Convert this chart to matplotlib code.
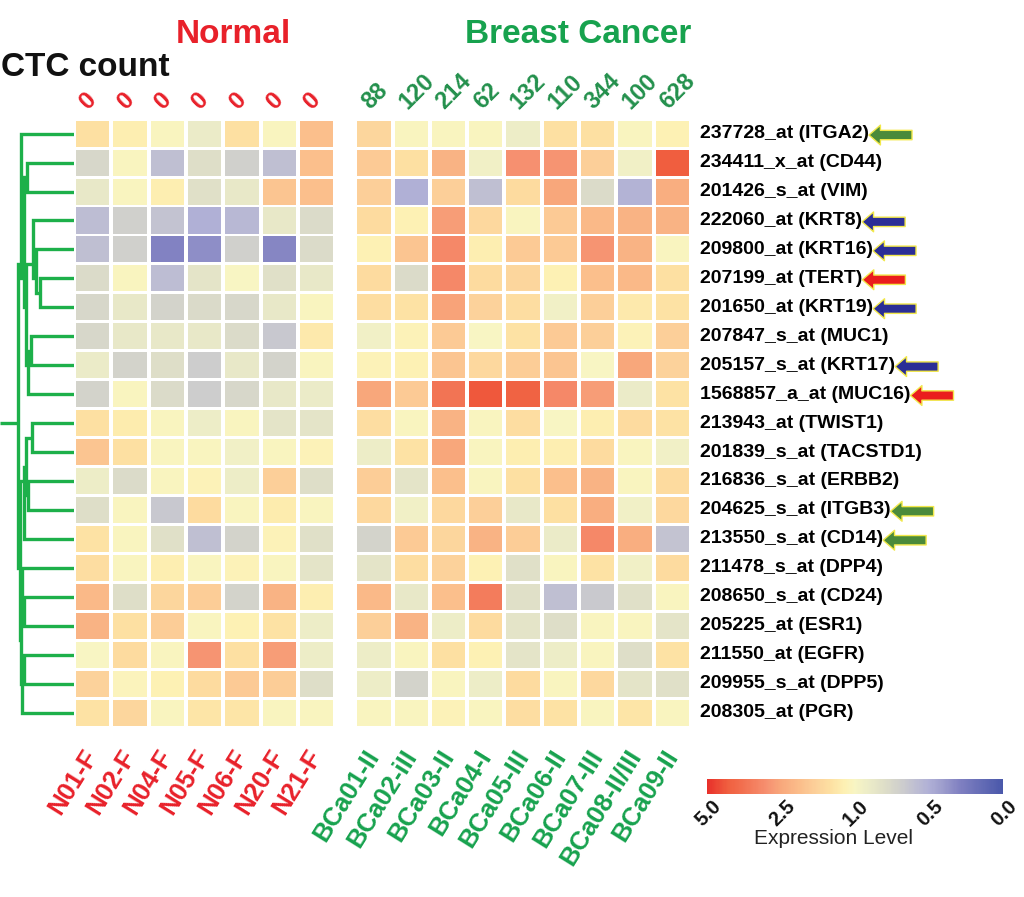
import numpy as np
import matplotlib
matplotlib.use("Agg")
import matplotlib.pyplot as plt
from matplotlib.colors import LinearSegmentedColormap, FuncNorm
from matplotlib.cm import ScalarMappable

plt.rcParams['font.family'] = ['Liberation Sans', 'DejaVu Sans']

# ---------------- data ----------------
genes = ["237728_at (ITGA2)", "234411_x_at (CD44)", "201426_s_at (VIM)",
         "222060_at (KRT8)", "209800_at (KRT16)", "207199_at (TERT)",
         "201650_at (KRT19)", "207847_s_at (MUC1)", "205157_s_at (KRT17)",
         "1568857_a_at (MUC16)", "213943_at (TWIST1)", "201839_s_at (TACSTD1)",
         "216836_s_at (ERBB2)", "204625_s_at (ITGB3)", "213550_s_at (CD14)",
         "211478_s_at (DPP4)", "208650_s_at (CD24)", "205225_at (ESR1)",
         "211550_at (EGFR)", "209955_s_at (DPP5)", "208305_at (PGR)"]

normal_samples = ["N01-F", "N02-F", "N04-F", "N05-F", "N06-F", "N20-F", "N21-F"]
cancer_samples = ["BCa01-II", "BCa02-iII", "BCa03-II", "BCa04-I", "BCa05-III",
                  "BCa06-II", "BCa07-III", "BCa08-II/III", "BCa09-II"]
normal_ctc = [0, 0, 0, 0, 0, 0, 0]
cancer_ctc = [88, 120, 214, 62, 132, 110, 344, 100, 628]

normal_expr = [
    [1.5, 1.25, 1.05, 0.9, 1.5, 1.05, 2.1],
    [0.75, 1.05, 0.6, 0.8, 0.7, 0.6, 2.1],
    [0.88, 1.05, 1.25, 0.82, 0.88, 2.0, 2.1],
    [0.58, 0.7, 0.62, 0.5, 0.55, 0.88, 0.78],
    [0.6, 0.7, 0.3, 0.35, 0.7, 0.32, 0.78],
    [0.78, 1.05, 0.58, 0.85, 1.0, 0.82, 0.88],
    [0.75, 0.88, 0.72, 0.77, 0.75, 0.88, 1.05],
    [0.75, 0.88, 0.88, 0.88, 0.78, 0.65, 1.35],
    [0.9, 0.72, 0.8, 0.68, 0.88, 0.72, 1.05],
    [0.72, 1.05, 0.78, 0.68, 0.75, 0.88, 0.9],
    [1.5, 1.3, 1.05, 0.92, 1.05, 0.85, 0.85],
    [2.0, 1.5, 1.05, 1.05, 0.95, 1.05, 1.15],
    [0.92, 0.78, 1.05, 1.15, 0.92, 1.8, 0.8],
    [0.8, 1.05, 0.65, 1.6, 1.05, 1.3, 1.05],
    [1.45, 1.05, 0.82, 0.6, 0.72, 1.15, 0.82],
    [1.55, 1.05, 1.25, 1.05, 1.15, 1.05, 0.85],
    [2.2, 0.8, 1.7, 1.85, 0.72, 2.3, 1.25],
    [2.3, 1.5, 1.85, 1.05, 1.2, 1.45, 0.92],
    [1.0, 1.6, 1.05, 2.9, 1.5, 2.7, 0.92],
    [1.75, 1.1, 1.2, 1.6, 1.9, 1.85, 0.8],
    [1.45, 1.7, 1.05, 1.4, 1.4, 1.05, 1.05],
]

cancer_expr = [
    [1.7, 1.05, 1.05, 1.05, 0.92, 1.5, 1.5, 1.05, 1.2],
    [1.9, 1.5, 2.3, 0.95, 3.0, 2.9, 1.8, 0.95, 4.3],
    [1.8, 0.5, 1.8, 0.6, 1.6, 2.5, 0.78, 0.52, 2.4],
    [1.6, 1.2, 2.7, 1.65, 1.05, 1.9, 2.2, 2.3, 2.3],
    [1.2, 2.0, 3.2, 1.25, 1.9, 1.9, 2.9, 2.3, 1.05],
    [1.6, 0.78, 3.2, 1.6, 1.7, 1.2, 2.1, 2.2, 1.5],
    [1.55, 1.45, 2.6, 1.75, 1.55, 0.95, 1.8, 1.35, 1.45],
    [0.95, 1.15, 1.9, 1.0, 1.45, 1.9, 1.8, 1.15, 1.8],
    [1.15, 1.2, 2.0, 1.65, 1.85, 2.0, 1.0, 2.5, 1.75],
    [2.5, 1.9, 3.7, 4.4, 4.2, 3.2, 2.7, 0.9, 1.45],
    [1.55, 1.05, 2.3, 1.05, 1.55, 1.0, 1.25, 1.6, 1.45],
    [0.92, 1.45, 2.5, 1.05, 1.25, 1.25, 1.6, 1.05, 0.95],
    [1.85, 0.85, 2.1, 1.05, 1.5, 2.1, 2.3, 1.05, 1.6],
    [1.65, 0.95, 1.65, 1.8, 0.88, 1.5, 2.4, 0.95, 1.65],
    [0.72, 1.9, 1.7, 2.3, 1.85, 0.9, 3.2, 2.4, 0.62],
    [0.85, 1.55, 1.75, 1.2, 0.82, 1.05, 1.45, 0.95, 1.6],
    [2.2, 0.88, 2.1, 3.5, 0.82, 0.6, 0.66, 0.82, 1.05],
    [1.8, 2.3, 0.92, 1.6, 0.85, 0.8, 1.05, 1.05, 0.85],
    [0.92, 1.05, 1.5, 1.2, 0.85, 0.92, 1.05, 0.8, 1.45],
    [0.92, 0.72, 1.05, 0.92, 1.6, 1.05, 1.65, 0.85, 0.82],
    [1.05, 1.05, 1.15, 1.05, 1.55, 1.45, 1.05, 1.4, 1.05],
]

# row dendrogram: (child_a, child_b, height); leaves are 0..20, new nodes 21..
row_merges = [
    (5, 6, 0.34), (4, 21, 0.38), (3, 22, 0.41), (7, 8, 0.43), (24, 9, 0.46),
    (23, 25, 0.48), (1, 2, 0.47), (27, 26, 0.50), (0, 28, 0.53),
    (10, 11, 0.42), (12, 13, 0.46), (30, 31, 0.48), (32, 14, 0.50),
    (16, 17, 0.50), (15, 34, 0.52), (18, 19, 0.50), (36, 20, 0.52),
    (35, 37, 0.535), (33, 38, 0.54), (29, 39, 0.56),
]

# marked genes (row index -> arrow colour)
arrow_rows = {0: "green", 3: "blue", 4: "blue", 5: "red", 6: "blue",
              8: "blue", 9: "red", 13: "green", 14: "green"}

cbar_ticks = [5.0, 2.5, 1.0, 0.5, 0.0]
cbar_ticklabels = ["5.0", "2.5", "1.0", "0.5", "0.0"]

# ---------------- styling ----------------
RED = "#e8212a"
GREEN = "#17a24e"
GREEN_NUM = "#23904c"
DENDRO = "#1db04a"
ARROW_COLORS = {"green": "#4b8a3a", "blue": "#2b2e96", "red": "#ea1d1d"}

cmap = LinearSegmentedColormap.from_list("expr", [
    (0.0, "#4a58aa"), (0.15, "#8282c2"), (0.2, "#9c9ccc"), (0.25, "#b0b0d6"),
    (0.3, "#c0c0d2"), (0.35, "#d0d0cc"), (0.4, "#dedec8"), (0.45, "#ebebc8"),
    (0.5, "#f8f5c4"), (0.5333, "#fdf1b4"), (0.5833, "#fde0a2"),
    (0.6333, "#fcd09a"), (0.6833, "#fbbf8c"), (0.75, "#f8a87c"),
    (0.8, "#f69070"), (0.88, "#f27050"), (0.93, "#f06040"), (1.0, "#e8302a")])

lv = [0.0, 0.5, 1.0, 2.5, 5.0]
pos = [0.0, 0.25, 0.5, 0.75, 1.0]
norm = FuncNorm((lambda x: np.interp(x, lv, pos), lambda y: np.interp(y, pos, lv)),
                vmin=0.0, vmax=5.0)

W, H = 1024, 897
fig = plt.figure(figsize=(W / 100, H / 100), dpi=100)

def px(x0, y0, x1, y1):
    return [x0 / W, 1 - y1 / H, (x1 - x0) / W, (y1 - y0) / H]

GAP = 0.54
nrow = len(genes)
xn = np.arange(len(normal_samples), dtype=float)
xc = len(normal_samples) + GAP + np.arange(len(cancer_samples), dtype=float)
rows = np.arange(nrow)

hm_top, hm_bot = 119.2, 727.0
ax = fig.add_axes(px(74, hm_top, 691, hm_bot))
ne = np.array(normal_expr)
ce = np.array(cancer_expr)
for j, x in enumerate(xn):
    ax.bar(np.full(nrow, x), 0.9, bottom=rows - 0.45, width=0.893,
           color=cmap(norm(ne[:, j])), linewidth=0)
for j, x in enumerate(xc):
    ax.bar(np.full(nrow, x), 0.9, bottom=rows - 0.45, width=0.893,
           color=cmap(norm(ce[:, j])), linewidth=0)
ax.set_xlim(-0.5, xc[-1] + 0.5)
ax.set_ylim(nrow - 0.5, -0.5)
ax.axis("off")

# CTC counts
for x, c in zip(xn, normal_ctc):
    ax.annotate(str(c), xy=(x, 1), xycoords=("data", "axes fraction"),
                xytext=(-3, 6.5), textcoords="offset points", rotation=45,
                ha="left", va="baseline", rotation_mode="anchor",
                fontsize=17.5, fontweight="bold", color=RED)
for x, c in zip(xc, cancer_ctc):
    ax.annotate(str(c), xy=(x, 1), xycoords=("data", "axes fraction"),
                xytext=(-3, 6.5), textcoords="offset points", rotation=45,
                ha="left", va="baseline", rotation_mode="anchor",
                fontsize=17, fontweight="bold", color=GREEN_NUM)

# sample labels
for x, s in zip(xn, normal_samples):
    ax.annotate(s, xy=(x, 0), xycoords=("data", "axes fraction"),
                xytext=(0, -18), textcoords="offset points", rotation=58,
                ha="right", va="center", rotation_mode="anchor",
                fontsize=18.5, fontweight="bold", color=RED)
for x, s in zip(xc, cancer_samples):
    ax.annotate(s, xy=(x, 0), xycoords=("data", "axes fraction"),
                xytext=(0, -18), textcoords="offset points", rotation=58,
                ha="right", va="center", rotation_mode="anchor",
                fontsize=18.5, fontweight="bold", color=GREEN)

# gene labels + arrows
xr = xc[-1] + 0.5 + 0.24
for i, g in enumerate(genes):
    t = ax.text(xr, i, g, ha="left", va="center", fontsize=14,
                fontweight="bold", color="black", clip_on=False)
    if i in arrow_rows:
        col = ARROW_COLORS[arrow_rows[i]]
        ax.annotate("", xy=(1.0, 0.42), xycoords=t, xytext=(31, 0),
                    textcoords="offset points",
                    arrowprops=dict(arrowstyle="simple,head_length=0.55,head_width=0.95,tail_width=0.45",
                                    mutation_scale=15, facecolor=col,
                                    edgecolor="#f2e84a", linewidth=1.0,
                                    shrinkA=0, shrinkB=0))

# dendrogram (node drawn at the mean position of its leaves)
axd = fig.add_axes(px(0, hm_top, 74, hm_bot))
members = {i: [i] for i in range(nrow)}
hgt = {i: 0.0 for i in range(nrow)}
nid = nrow
for a, b, h in row_merges:
    ya, yb = np.mean(members[a]), np.mean(members[b])
    axd.plot([hgt[a], h, h, hgt[b]], [ya, ya, yb, yb],
             color=DENDRO, lw=2.4, solid_capstyle="butt", solid_joinstyle="miter")
    members[nid] = members[a] + members[b]
    hgt[nid] = h
    nid += 1
root = nid - 1
yr = np.mean(members[root])
axd.plot([hgt[root], 0.74], [yr, yr], color=DENDRO, lw=2.4, solid_capstyle="butt")
axd.set_xlim(0.74, 0)
axd.set_ylim(nrow - 0.5, -0.5)
axd.axis("off")

# titles
fig.text(233 / W, 1 - 43 / H, "Normal", ha="center", va="baseline",
         fontsize=24, fontweight="bold", color=RED)
fig.text(578 / W, 1 - 43 / H, "Breast Cancer", ha="center", va="baseline",
         fontsize=24, fontweight="bold", color=GREEN)
fig.text(1 / W, 1 - 76 / H, "CTC count", ha="left", va="baseline",
         fontsize=24, fontweight="bold", color="#111111")

# colour bar
cax = fig.add_axes(px(707, 779, 1003, 794))
cb = fig.colorbar(ScalarMappable(norm=norm, cmap=cmap), cax=cax,
                  orientation="horizontal")
cb.outline.set_visible(False)
cax.invert_xaxis()
cax.set_xticks([])
for t, lab in zip(cbar_ticks, cbar_ticklabels):
    cax.annotate(lab, xy=(t, 0), xycoords=("data", "axes fraction"),
                 xytext=(3, -2), textcoords="offset points", rotation=45,
                 ha="right", va="top", rotation_mode="anchor",
                 fontsize=14.5, fontweight="bold", color="#111111")
fig.text(833 / W, 1 - 838 / H, "Expression Level", ha="center", va="center",
         fontsize=15, color="#222222")

fig.savefig("out.png", dpi=100)
